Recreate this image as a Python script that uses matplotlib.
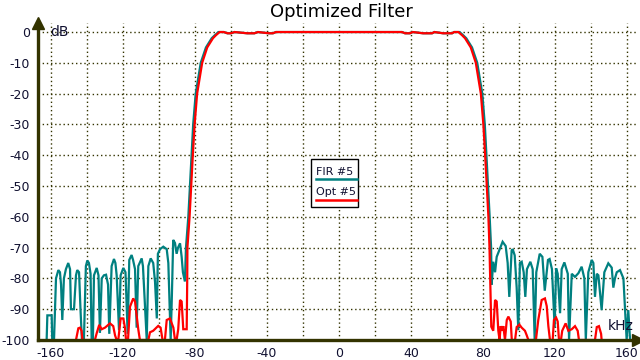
import matplotlib.pyplot as plt
from matplotlib.patches import Rectangle
from matplotlib.lines import Line2D
import numpy as np

plt.rcParams['axes.unicode_minus'] = False

# FIR #5 (teal) - (kHz, dB)
fir_left = [
    (-162.4, -100), (-162.0, -92), (-159.6, -92), (-159.3, -100), (-158.3, -100),
    (-157.2, -80), (-155.9, -77.3), (-155.0, -78), (-154.4, -82), (-153.7, -93.5),
    (-152.8, -80), (-151.7, -77), (-150.4, -75), (-149.4, -77), (-148.9, -90),
    (-147.2, -90), (-146.1, -79), (-145.4, -77.3), (-144.4, -78), (-143.6, -90),
    (-142.8, -100), (-141.7, -100), (-140.6, -76), (-139.8, -74.2), (-138.9, -75),
    (-138.0, -78.5), (-137.4, -100), (-136.7, -100), (-136.1, -79), (-134.6, -76.6),
    (-133.6, -79), (-132.8, -97.7), (-131.8, -80), (-130.6, -79), (-129.4, -78.8),
    (-128.3, -82), (-127.6, -98), (-126.3, -76), (-125.0, -73.7), (-124.2, -75),
    (-123.5, -79), (-122.2, -96.8), (-121.3, -79), (-119.8, -76.6), (-118.6, -78),
    (-117.4, -98), (-116.5, -74), (-115.2, -72.4), (-114.4, -74), (-113.3, -77),
    (-112.4, -96), (-111.5, -76), (-109.6, -73.5), (-108.9, -76), (-106.8, -100),
    (-105.9, -76), (-104.6, -73.5), (-103.2, -75), (-102.2, -81), (-101.2, -93),
    (-100.6, -72), (-99.4, -70.5), (-97.6, -69.7), (-95.7, -70.5), (-94.8, -75),
    (-93.5, -100), (-92.8, -85), (-92.1, -67.5), (-91.1, -68.5), (-90.2, -72),
    (-89.4, -70), (-88.3, -68.6), (-87.4, -73), (-86.7, -78), (-85.6, -81),
    (-85.0, -70), (-83.7, -60), (-82.8, -50), (-81.9, -40), (-81.0, -30),
    (-79.6, -20), (-76.8, -10), (-73.9, -5), (-70.7, -2), (-68.9, -1), (-67.0, 0),
]
fir_right = [
    (67.0, 0), (68.9, -1), (70.7, -2), (73.9, -5), (76.8, -10), (79.6, -20),
    (81.0, -30), (81.9, -40), (82.8, -50), (83.7, -60), (84.5, -70), (84.8, -82),
    (85.7, -74.6), (86.7, -78), (87.6, -73), (90.9, -68.1), (92.6, -69.5),
    (93.7, -75), (94.6, -86), (95.9, -71), (96.5, -70.5), (97.6, -72.5),
    (98.7, -83), (99.6, -96.8), (100.5, -75), (101.5, -74.6), (102.6, -78),
    (103.5, -86), (104.4, -77), (106.3, -74.6), (107.6, -77), (108.7, -100),
    (109.6, -78), (111.5, -72), (113.0, -73), (114.3, -84), (116.1, -74),
    (117.0, -73.7), (118.3, -77), (119.3, -90), (119.8, -96), (120.6, -76.7),
    (121.5, -78.5), (122.8, -91.3), (123.7, -77), (125.2, -74.8), (127.1, -78.5),
    (127.8, -100), (129.3, -78.5), (131.1, -79.5), (133.0, -78.3), (134.8, -76.2),
    (136.3, -80), (137.1, -100), (138.5, -78), (140.4, -74), (141.3, -75),
    (142.2, -86), (143.2, -78.5), (144.1, -79), (145.9, -90.3), (147.4, -78),
    (149.6, -75.1), (151.5, -76.5), (152.4, -83), (153.3, -80), (154.3, -78),
    (156.1, -77.3), (158.0, -80), (158.9, -90.3), (159.8, -100), (160.7, -90.3),
    (161.7, -100),
]

# Opt #5 (red)
opt_left = [
    (-146.1, -100), (-144.8, -96.2), (-143.9, -96), (-143.0, -97), (-142.5, -100),
    (-135.6, -100), (-134.6, -97.8), (-133.2, -95.1), (-131.8, -96.5), (-130.0, -96),
    (-127.2, -94.6), (-125.4, -95.5), (-124.4, -98.5), (-123.5, -100), (-122.6, -100),
    (-121.3, -93), (-119.8, -93), (-118.9, -96), (-118.3, -100), (-117.2, -100),
    (-116.1, -89.2), (-114.3, -86.5), (-113.3, -87.5), (-112.4, -92), (-111.5, -96.5),
    (-110.6, -100), (-105.9, -100), (-105.0, -97.5), (-103.2, -97), (-100.4, -95.4),
    (-99.1, -96), (-98.0, -100), (-96.7, -100), (-95.7, -93.5), (-93.9, -93),
    (-92.0, -96), (-91.1, -100), (-90.2, -100), (-89.3, -96.5), (-88.3, -87),
    (-87.4, -87.5), (-86.5, -96.5), (-84.6, -96.5), (-84.3, -80), (-84.2, -70),
    (-83.0, -60), (-82.1, -50), (-81.2, -40), (-80.2, -30), (-78.8, -20),
    (-76.0, -10), (-73.2, -5), (-70.0, -2), (-68.3, -1), (-66.3, 0),
]
opt_right = [
    (66.3, 0), (68.3, -1), (70.0, -2), (73.2, -5), (76.0, -10), (78.8, -20),
    (80.2, -30), (81.2, -40), (82.1, -50), (83.0, -60), (83.6, -70), (84.0, -80),
    (84.6, -95.7), (85.7, -97), (86.7, -87), (87.6, -87.5), (88.5, -97),
    (89.2, -100), (89.8, -95.5), (90.6, -97), (91.3, -95.5), (92.2, -100),
    (93.2, -93.5), (94.1, -92.4), (95.4, -94), (96.0, -100), (97.8, -100),
    (98.7, -95.8), (100.2, -95), (101.5, -96), (103.3, -97), (104.3, -98.5),
    (105.2, -100), (109.4, -100), (110.7, -93.5), (112.6, -87), (114.4, -86.5),
    (115.4, -89), (116.3, -95.5), (117.2, -100), (118.7, -100), (119.4, -93.5),
    (120.6, -92.7), (121.5, -94), (122.2, -100), (123.3, -100), (124.0, -97),
    (125.9, -94.6), (127.4, -97), (129.3, -96.5), (131.1, -95.5), (132.6, -97),
    (133.3, -100), (142.2, -100), (143.2, -95.8), (144.4, -95.5), (145.6, -98),
    (145.9, -100),
]

# passband ripple, shared by both
passband = [
    (-64, 0), (-62, -0.4), (-60, -0.4), (-58, 0), (-51, -0.4), (-47, -0.4),
    (-45, 0), (-39, -0.4), (-36.7, -0.4), (-35, 0), (35, 0), (36.7, -0.4),
    (39.4, -0.4), (41, 0), (46.7, -0.4), (51.7, -0.4), (53, 0), (57.8, -0.4),
    (62.8, -0.4), (64, 0),
]

series = [("FIR #5", fir_left, fir_right, "#008080"),
          ("Opt #5", opt_left, opt_right, "#ff0000")]

axis_col = "#333300"
text_col = "#101030"

fig = plt.figure(figsize=(6.4, 3.6), dpi=100)
ax = fig.add_axes([38 / 640, 20 / 360, 600 / 640, 317.2 / 360])

for name, left, right, col in series:
    pts = np.array(left + passband + right)
    ax.plot(pts[:, 0], pts[:, 1], color=col, lw=1.6, solid_joinstyle="miter")

ax.set_xlim(-167.2, 166.1)
ax.set_ylim(-100, 3)
ax.set_xticks(np.arange(-160, 161, 40))
ax.set_xticks(np.arange(-140, 161, 40), minor=True)
ax.set_yticks(np.arange(-100, 1, 10))
ax.grid(True, which="both", linestyle=(0, (1, 2)), color=axis_col, lw=1.0)
ax.tick_params(which="both", length=0, labelsize=9, colors=text_col)
ax.tick_params(axis="y", pad=6)
ax.tick_params(axis="x", pad=5)

for s in ("top", "right"):
    ax.spines[s].set_visible(False)
for s in ("left", "bottom"):
    ax.spines[s].set_color(axis_col)
    ax.spines[s].set_linewidth(2.4)
    ax.spines[s].set_zorder(5)

# arrow heads on the axes
ax.plot([0], [1], marker="^", ms=9, color=axis_col, transform=ax.transAxes, clip_on=False, zorder=6)
ax.plot([1], [0], marker=">", ms=9, color=axis_col, transform=ax.transAxes, clip_on=False, zorder=6)

ax.text(0.02, 0.97, "dB", transform=ax.transAxes, fontsize=10, color=text_col, va="center", ha="left")
ax.text(0.95, 0.045, "kHz", transform=ax.transAxes, fontsize=10, color=text_col, va="center", ha="left")
fig.text(341 / 640, 1 - 12 / 360, "Optimized Filter", fontsize=13, color="#000000", ha="center", va="center")

# legend: text with coloured line underneath
ax.add_patch(Rectangle((0.455, 0.418), 0.079, 0.152, transform=ax.transAxes,
                       facecolor="white", edgecolor="black", lw=1.0, zorder=7))
for i, (name, left, right, col) in enumerate(series):
    ty = 0.531 - i * 0.065
    ax.text(0.463, ty, name, transform=ax.transAxes, fontsize=8, color=text_col,
            va="center", ha="left", zorder=8)
    ax.add_line(Line2D([0.463, 0.531], [ty - 0.024, ty - 0.024], transform=ax.transAxes,
                       color=col, lw=1.8, zorder=8))

fig.savefig("out.png", dpi=100)
